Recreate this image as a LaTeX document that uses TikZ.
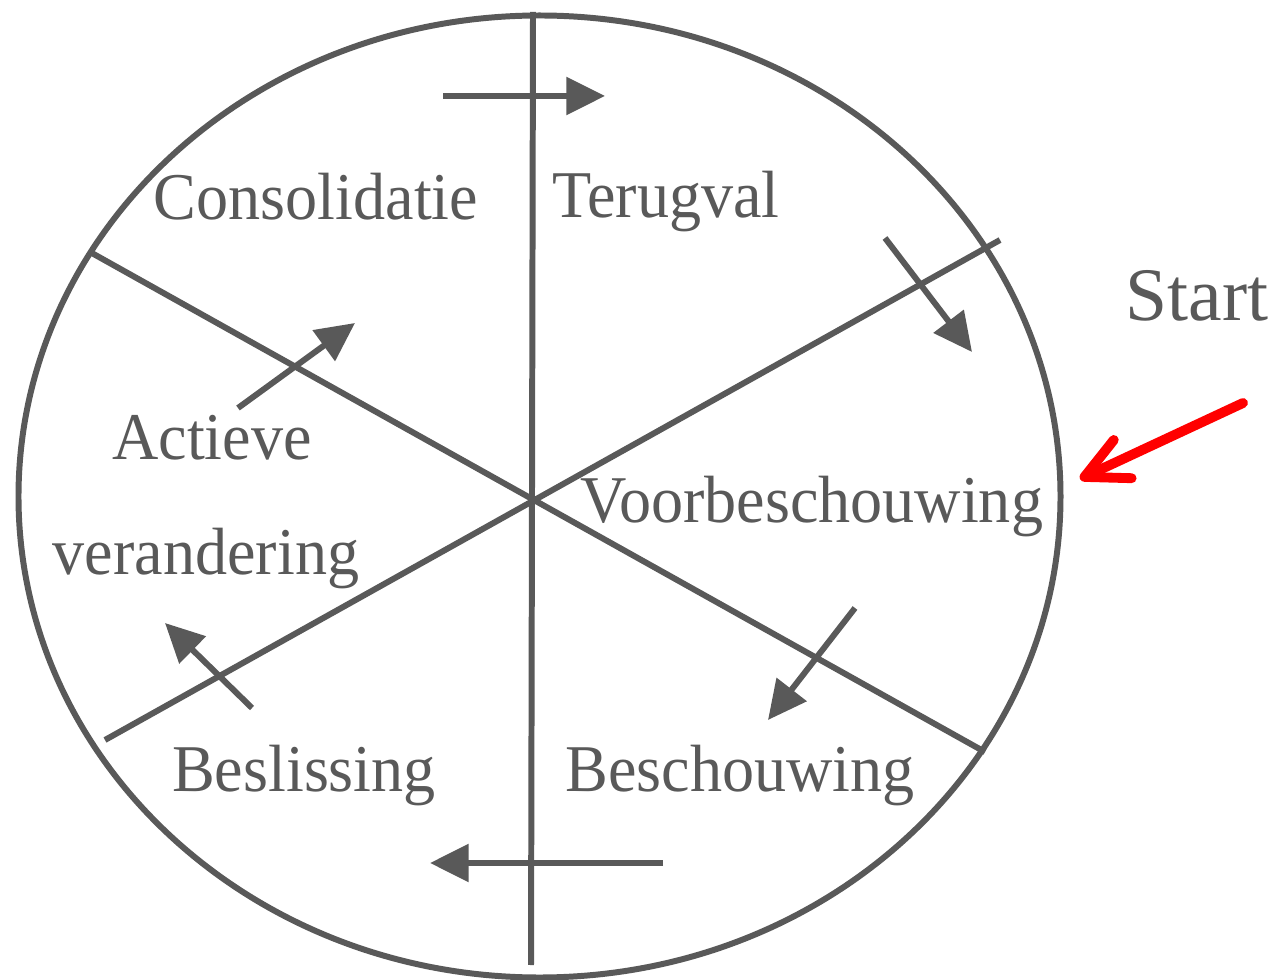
\documentclass[tikz,border=0pt]{standalone}
\usepackage{fontspec}
\setmainfont{Liberation Serif}
\newfontfamily\phasefont[FakeStretch=0.96]{Liberation Serif}
\usetikzlibrary{arrows.meta}
\definecolor{wheelgray}{RGB}{89,89,89}

\begin{document}
\begin{tikzpicture}[x=0.01cm, y=-0.01cm, line width=1.7pt, draw=wheelgray,
  phase/.style={text=wheelgray, font=\phasefont\fontsize{19}{22}\selectfont, anchor=base},
  turn/.style={wheelgray, -{Triangle[length=11pt, width=10.5pt]}}]
  \useasboundingbox (0,0) rectangle (1276,980);
  % wiel en spaken
  \draw (539.5,496.5) ellipse [x radius=521, y radius=481];
  \coordinate (T) at (533,12);
  \coordinate (B) at (531,965);
  \coordinate (UL) at (90,252);
  \coordinate (LR) at (985,752);
  \coordinate (LL) at (105,740);
  \coordinate (UR) at (1000,240);
  \draw (T) -- (B);
  \draw (UL) -- (LR);
  \draw (LL) -- (UR);
  % pijlen tussen de fasen
  \coordinate (a1) at (443,96);  \coordinate (b1) at (605,96);
  \coordinate (a2) at (885,238); \coordinate (b2) at (972,352);
  \coordinate (a3) at (855,608); \coordinate (b3) at (768,720);
  \coordinate (a4) at (663,863); \coordinate (b4) at (430,863);
  \coordinate (a5) at (252,708); \coordinate (b5) at (165,623);
  \coordinate (a6) at (238,408); \coordinate (b6) at (355,323);
  \foreach \i in {1,...,6}
    \draw[turn] (a\i) -- (b\i);
  % fasen
  \node[phase] (cons) at (316,220) {Consolidatie};
  \node[phase] (terug) at (666,218) {Terugval};
  \node[phase] (voor) at (812,523) {Voorbeschouwing};
  \node[phase] (besch) at (740,791) {Beschouwing};
  \node[phase] (besl) at (304,791) {Beslissing};
  \node[phase] (act1) at (212,460) {Actieve};
  \node[phase] (act2) at (206,575) {verandering};
  % start
  \node[phase, font=\fontsize{21.5}{24}\selectfont] (start) at (1197,321) {Start};
  \coordinate (s0) at (1243,403);
  \coordinate (s1) at (1080,479);
  \draw[red, line width=2.8pt, line cap=round,
    -{Straight Barb[length=12pt, width=12pt, round]}] (s0) -- (s1);
\end{tikzpicture}
\end{document}
